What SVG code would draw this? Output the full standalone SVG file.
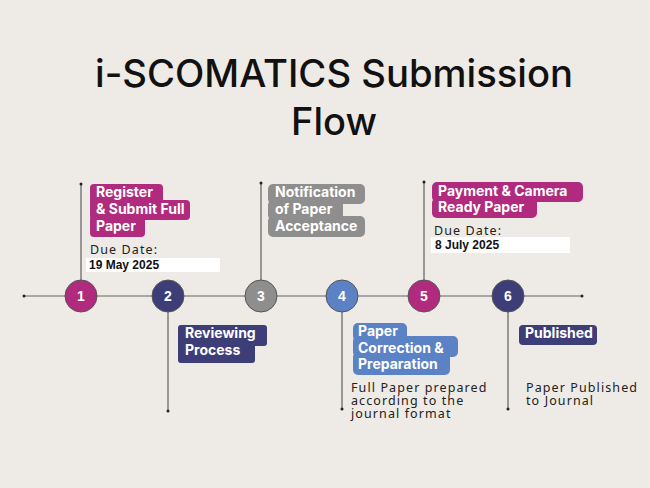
<svg xmlns="http://www.w3.org/2000/svg" width="650" height="488" viewBox="0 0 650 488">
<style>
.title{font-family:Inter,"Liberation Sans",sans-serif;font-weight:500;font-size:38px;fill:#111;text-anchor:middle}
.lbl{font-family:Inter,"Liberation Sans",sans-serif;font-weight:700;font-size:14px;fill:#fff}
.due{font-family:"Noto Sans","DejaVu Sans",sans-serif;font-size:12.5px;fill:#222;letter-spacing:1.1px}
.date{font-family:"Liberation Sans",Arial,sans-serif;font-weight:700;font-size:12px;fill:#111}
.desc{font-family:"Noto Sans","DejaVu Sans",sans-serif;font-size:12.5px;fill:#222;letter-spacing:1.1px}
.num{font-family:"Liberation Sans",Arial,sans-serif;font-weight:700;font-size:14px;fill:#fff;text-anchor:middle}
.mag{fill:#B02A7E}.ind{fill:#3D3D78}.gry{fill:#8E8E8E}.blu{fill:#5B82C4}
.ln{stroke:#444;stroke-width:1;fill:none}
.tl{stroke:#666;stroke-width:1.2;fill:none}
.dot{fill:#222}
.c{stroke:#555;stroke-width:1}
</style>
<rect width="650" height="488" fill="#EEEAE5"/>
<g id="title">
<text class="title" x="334" y="87" textLength="478" lengthAdjust="spacingAndGlyphs">i-SCOMATICS Submission</text>
<text class="title" x="334" y="135">Flow</text>
</g>
<g id="connectors">
<line class="tl" x1="24" y1="296" x2="582" y2="296"/>
<circle class="dot" cx="24" cy="296" r="1.5"/>
<circle class="dot" cx="582" cy="296" r="1.5"/>
<line class="ln" x1="81" y1="184" x2="81" y2="280"/>
<circle class="dot" cx="81" cy="184" r="1.5"/>
<line class="ln" x1="168" y1="312" x2="168" y2="411"/>
<circle class="dot" cx="168" cy="411" r="1.5"/>
<line class="ln" x1="261" y1="183" x2="261" y2="280"/>
<circle class="dot" cx="261" cy="183" r="1.5"/>
<line class="ln" x1="342" y1="312" x2="342" y2="409"/>
<circle class="dot" cx="342" cy="409" r="1.5"/>
<line class="ln" x1="424" y1="182" x2="424" y2="280"/>
<circle class="dot" cx="424" cy="182" r="1.5"/>
<line class="ln" x1="508" y1="312" x2="508" y2="409"/>
<circle class="dot" cx="508" cy="409" r="1.5"/>
</g>
<g id="step1">
<circle class="c mag" cx="81" cy="296" r="16"/>
<text class="num" x="81" y="301">1</text>
<rect class="mag" x="90" y="184" width="73" height="21" rx="4"/>
<rect class="mag" x="90" y="200" width="100" height="20" rx="4"/>
<rect class="mag" x="90" y="216" width="55" height="21" rx="4"/>
<text class="lbl" x="96" y="197">Register</text>
<text class="lbl" x="96" y="214">&amp; Submit Full</text>
<text class="lbl" x="96" y="231">Paper</text>
<text class="due" x="90" y="254">Due Date:</text>
<rect x="86" y="258" width="134" height="14" fill="#fff"/>
<text class="date" x="89" y="269">19 May 2025</text>
</g>
<g id="step2">
<circle class="c ind" cx="168" cy="296" r="16"/>
<text class="num" x="168" y="301">2</text>
<rect class="ind" x="178" y="325" width="89" height="21" rx="3"/>
<rect class="ind" x="178" y="341" width="77" height="22" rx="3"/>
<text class="lbl" x="185" y="338">Reviewing</text>
<text class="lbl" x="185" y="355">Process</text>
</g>
<g id="step3">
<circle class="c gry" cx="261" cy="296" r="16"/>
<text class="num" x="261" y="301">3</text>
<rect class="gry" x="268" y="184" width="97" height="20" rx="5"/>
<rect class="gry" x="268" y="200" width="75" height="20" rx="5"/>
<rect class="gry" x="268" y="216" width="97" height="21" rx="5"/>
<text class="lbl" x="275" y="197">Notification</text>
<text class="lbl" x="275" y="214">of Paper</text>
<text class="lbl" x="275" y="231">Acceptance</text>
</g>
<g id="step4">
<circle class="c blu" cx="342" cy="296" r="16"/>
<text class="num" x="342" y="301">4</text>
<rect class="blu" x="353" y="323" width="54" height="18" rx="5"/>
<rect class="blu" x="353" y="336" width="105" height="21" rx="5"/>
<rect class="blu" x="353" y="352" width="97" height="23" rx="5"/>
<text class="lbl" x="358" y="336">Paper</text>
<text class="lbl" x="358" y="353">Correction &amp;</text>
<text class="lbl" x="358" y="369">Preparation</text>
<text class="desc" x="351" y="392">Full Paper prepared</text>
<text class="desc" x="351" y="405">according to the</text>
<text class="desc" x="351" y="418">journal format</text>
</g>
<g id="step5">
<circle class="c mag" cx="424" cy="296" r="16"/>
<text class="num" x="424" y="301">5</text>
<rect class="mag" x="432" y="182" width="151" height="20" rx="5"/>
<rect class="mag" x="432" y="198" width="105" height="20" rx="5"/>
<text class="lbl" x="438" y="196">Payment &amp; Camera</text>
<text class="lbl" x="438" y="212">Ready Paper</text>
<text class="due" x="434" y="235">Due Date:</text>
<rect x="431" y="237" width="139" height="16" fill="#fff"/>
<text class="date" x="435" y="249">8 July 2025</text>
</g>
<g id="step6">
<circle class="c ind" cx="508" cy="296" r="16"/>
<text class="num" x="508" y="301">6</text>
<rect class="ind" x="519" y="325" width="78" height="20" rx="4"/>
<text class="lbl" x="525" y="338">Published</text>
<text class="desc" x="526" y="392">Paper Published</text>
<text class="desc" x="526" y="405">to Journal</text>
</g>
</svg>
